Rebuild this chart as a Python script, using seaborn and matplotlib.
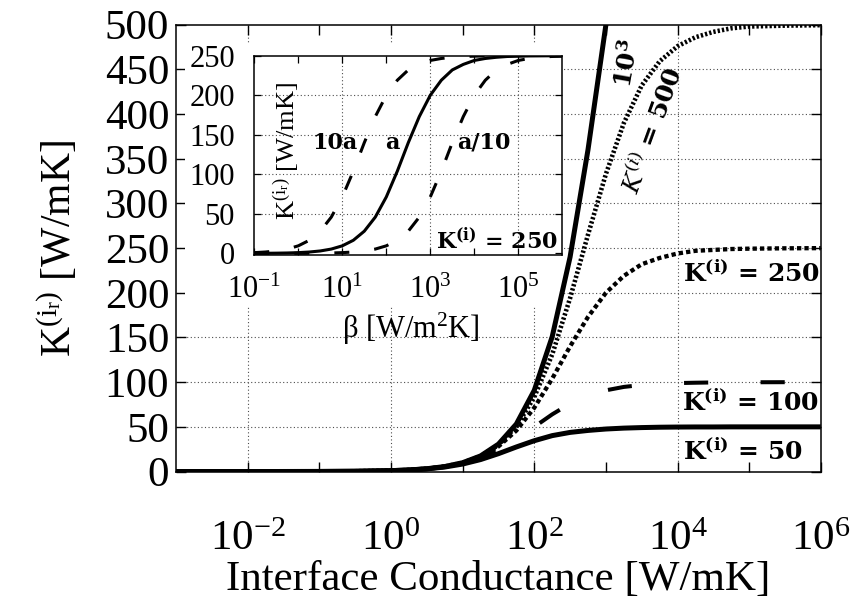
import matplotlib
matplotlib.use("Agg")
import matplotlib.pyplot as plt
from matplotlib.patches import Rectangle
from matplotlib.ticker import FixedLocator, FixedFormatter, NullFormatter
import seaborn as sns
import pandas as pd

# ---- main panel data: effective conductivity vs interface conductance ----
beta_main = [0.001, 0.01, 0.1, 0.316, 1, 1.78, 3.16, 5.62, 10, 17.8, 31.6, 56.2,
             100, 178, 316, 562, 1000, 1780, 3160, 5620, 1e4, 1.78e4, 3.16e4,
             5.62e4, 1e5, 3.16e5, 1e6]
k_50 = [0.001, 0.01, 0.1, 0.31, 0.98, 1.72, 2.97, 5.05, 8.4, 13.4, 20.0, 27.5,
        34.5, 40.2, 43.8, 46.0, 47.6, 48.6, 49.2, 49.6, 49.8, 49.9, 49.9, 50, 50, 50, 50]
k_100 = [0.001, 0.01, 0.1, 0.31, 0.99, 1.75, 3.07, 5.32, 9.1, 15.1, 24.0, 36.0,
         50.0, 64.0, 76.0, 84.9, 90.9, 94.7, 96.9, 98.3, 99.0, 99.4, 99.7, 99.8,
         99.9, 100, 100]
k_250 = [0.001, 0.01, 0.1, 0.32, 1.0, 1.77, 3.12, 5.5, 9.6, 16.6, 28.1, 45.9,
         71.4, 104, 140, 173, 200, 219, 232, 239, 244, 247, 248, 249, 249.4, 249.8, 250]
k_500 = [0.001, 0.01, 0.1, 0.32, 1.0, 1.77, 3.14, 5.56, 9.8, 17.2, 29.7, 50.5,
         83.3, 131, 194, 265, 333, 390, 432, 459, 476, 486, 492, 496, 498, 499, 499.5]
k_1000 = [0.001, 0.01, 0.1, 0.32, 1.0, 1.78, 3.15, 5.59, 9.9, 17.5, 30.7, 53.2,
          90.9, 151, 240, 360, 500, 640, 760, 849, 909, 947, 969, 983, 990, 997, 999]

# ---- inset data: K(i) = 250 for three interface parameters ----
beta_inset = [0.1, 0.178, 0.316, 0.562, 1, 1.78, 3.16, 5.62, 10, 17.8, 31.6, 56.2,
              100, 178, 316, 562, 1000, 1780, 3160, 5620, 1e4, 1.78e4, 3.16e4,
              5.62e4, 1e5, 1.78e5, 3.16e5, 5.62e5, 1e6]
k_a = [0.1, 0.18, 0.32, 0.56, 1.0, 1.77, 3.12, 5.5, 9.6, 16.6, 28.1, 45.9, 71.4,
       104, 140, 173, 200, 219, 232, 239, 244, 246.5, 248, 249, 249.4, 249.7,
       249.8, 249.9, 250]
k_10a = [1.0, 1.77, 3.12, 5.5, 9.6, 16.6, 28.1, 45.9, 71.4, 104, 140, 173, 200,
         219, 232, 239, 244, 246.5, 248, 249, 249.4, 249.7, 249.8, 249.9, 250,
         250, 250, 250, 250]
k_a10 = [0.01, 0.018, 0.032, 0.056, 0.1, 0.18, 0.32, 0.56, 1.0, 1.77, 3.12, 5.5,
         9.6, 16.6, 28.1, 45.9, 71.4, 104, 140, 173, 200, 219, 232, 239, 244,
         246.5, 248, 249, 249.4]

main_ticks = [1e-2, 1e0, 1e2, 1e4, 1e6]
main_ticklabels = [r"$\mathregular{10^{-2}}$", r"$\mathregular{10^{0}}$",
                   r"$\mathregular{10^{2}}$", r"$\mathregular{10^{4}}$",
                   r"$\mathregular{10^{6}}$"]
inset_ticks = [1e-1, 1e1, 1e3, 1e5]
inset_ticklabels = [r"$\mathregular{10^{-1}}$", r"$\mathregular{10^{1}}$",
                    r"$\mathregular{10^{3}}$", r"$\mathregular{10^{5}}$"]

sns.set_style("ticks")
plt.rcParams.update({
    "font.family": ["Liberation Serif", "DejaVu Serif"],
    "mathtext.fontset": "custom",
    "mathtext.rm": "Liberation Serif",
    "mathtext.it": "Liberation Serif:italic",
    "mathtext.bf": "Liberation Serif:bold",
    "text.color": "black",
    "axes.labelcolor": "black",
    "axes.edgecolor": "black",
    "axes.linewidth": 1.1,
    "xtick.direction": "in",
    "ytick.direction": "in",
    "xtick.color": "black",
    "ytick.color": "black",
    "xtick.labelcolor": "black",
    "ytick.labelcolor": "black",
})

fig = plt.figure(figsize=(8.55, 6.03), dpi=100)
ax = fig.add_axes([0.206, 0.218, 0.754, 0.741])
ax.set_zorder(0)

grid_kw = dict(color="0.3", lw=0.8, linestyle=(0, (1, 2.2)), zorder=0.5)


def draw(axis, x, y, lw, ls, z):
    df = pd.DataFrame({"x": x, "y": y})
    sns.lineplot(data=df, x="x", y="y", ax=axis, color="black", lw=lw,
                 linestyle=ls, estimator=None, sort=False, legend=False,
                 zorder=z, solid_capstyle="butt", dash_capstyle="butt")


ax.set_xscale("log")
draw(ax, beta_main, k_100, 2.9, (2.0, (6.0, 13.0)), 2)
draw(ax, beta_main, k_250, 3.1, (0, (1.0, 0.72)), 3)
draw(ax, beta_main, k_500, 3.3, (0, (0.5, 0.45)), 4)
draw(ax, beta_main, k_50, 3.6, "-", 5)
draw(ax, beta_main, k_1000, 3.6, "-", 6)

ax.set_xlim(1e-3, 1e6)
ax.set_ylim(0, 500)
ax.xaxis.set_major_locator(FixedLocator(main_ticks))
ax.xaxis.set_major_formatter(FixedFormatter(main_ticklabels))
ax.xaxis.set_minor_locator(FixedLocator([1e-1, 1e1, 1e3, 1e5]))
ax.xaxis.set_minor_formatter(NullFormatter())
ax.set_yticks(range(0, 501, 50))
ax.tick_params(axis="both", which="both", top=True, right=True, length=7,
               width=1.0, labelsize=31)
ax.tick_params(axis="x", which="major", pad=35)
ax.tick_params(axis="y", which="major", pad=5)
for t in main_ticks[:-1]:
    ax.axvline(t, **grid_kw)
for v in range(50, 500, 50):
    ax.axhline(v, **grid_kw)

ax.set_xlabel("Interface Conductance [W/mK]", fontsize=31, labelpad=1)
ax.set_ylabel(r"$\mathregular{K^{(i_r)}}$ [W/mK]", fontsize=30, labelpad=18)

# white panel behind the inset: hides the main grid, not the curves
ax.add_patch(Rectangle((185 / 855, 1 - 307 / 603), (563 - 185) / 855,
                       (307 - 43) / 603, transform=fig.transFigure,
                       facecolor="white", edgecolor="none", zorder=0.7,
                       clip_on=False))

bold = dict(family="DejaVu Serif", fontweight="bold", math_fontfamily="dejavuserif",
            color="black", clip_on=False, zorder=8)
ax.text(1.2e4, 221, r"K$^{\mathbf{(i)}}$ = 250", fontsize=18, ha="left", va="center", **bold)
ax.text(1.17e4, 76.6, r"K$^{\mathbf{(i)}}$ = 100", fontsize=18, ha="left", va="center", **bold)
ax.text(1.2e4, 21.8, r"K$^{\mathbf{(i)}}$ = 50", fontsize=18, ha="left", va="center", **bold)
ax.text(2.0e3, 457, r"10$^{\mathbf{3}}$", fontsize=18, ha="center", va="center",
        rotation=80, **bold)
ax.text(4.6e3, 382, r"$\mathit{K}^{(\mathit{i})}$ = 500", fontsize=18,
        ha="center", va="center", rotation=70, **bold)

# ---- inset ----
ins = fig.add_axes([254.3 / 855, 1 - 255 / 603, 308 / 855, 199.3 / 603])
ins.set_zorder(1)
ins.set_facecolor("white")
ins.set_xscale("log")
draw(ins, beta_inset, k_10a, 2.2, (0, (4.9, 8.2)), 3)
draw(ins, beta_inset, k_a10, 2.2, (0, (4.9, 8.2)), 3)
draw(ins, beta_inset, k_a, 2.2, "-", 4)
ins.set_xlim(1e-1, 1e6)
ins.set_ylim(-2, 250)
ins.xaxis.set_major_locator(FixedLocator(inset_ticks))
ins.xaxis.set_major_formatter(FixedFormatter(inset_ticklabels))
ins.xaxis.set_minor_locator(FixedLocator([1e0, 1e2, 1e4]))
ins.xaxis.set_minor_formatter(NullFormatter())
ins.set_yticks(range(0, 251, 50))
ins.tick_params(axis="both", which="both", top=True, right=True, length=5,
                width=0.9, labelsize=22)
ins.tick_params(axis="x", which="major", pad=15)
ins.tick_params(axis="y", which="major", pad=14)
for t in inset_ticks[1:]:
    ins.axvline(t, **grid_kw)
for v in range(50, 250, 50):
    ins.axhline(v, **grid_kw)
ins.set_xlabel("")
ins.set_ylabel("")
ins.text(0.106, 0.522, r"$\mathregular{K^{(i_r)}}$ [W/mK]", transform=ins.transAxes,
         rotation=90, fontsize=19, ha="center", va="center", zorder=8)
ins.text(0.509, -0.37, r"β [W/m$\mathregular{^2}$K]", transform=ins.transAxes,
         fontsize=22, ha="center", va="center", clip_on=False)
ibold = dict(family="DejaVu Serif", fontweight="bold", math_fontfamily="dejavuserif",
             color="black", transform=ins.transAxes, zorder=8)
ins.text(0.262, 0.562, "10a", fontsize=16, ha="center", va="center", **ibold)
ins.text(0.449, 0.562, "a", fontsize=16, ha="center", va="center", **ibold)
ins.text(0.744, 0.562, "a/10", fontsize=16, ha="center", va="center", **ibold)
ins.text(0.788, 0.07, r"K$^{\mathbf{(i)}}$ = 250", fontsize=16, ha="center",
         va="center", **ibold)

fig.savefig("out.png", dpi=100)
